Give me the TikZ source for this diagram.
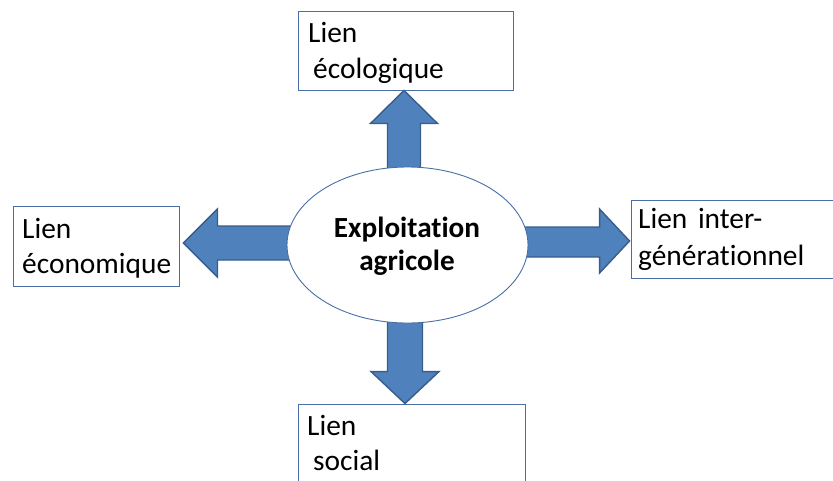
\documentclass[tikz,border=0pt]{standalone}
\usepackage{fontspec}
\setmainfont{Carlito}[Ligatures=NoCommon]
\usetikzlibrary{calc,shapes.geometric}
\pgfdeclarelayer{bg}
\pgfsetlayers{bg,main}
\definecolor{arrowfill}{HTML}{4F81BD}
\definecolor{arrowline}{HTML}{385D8A}
\definecolor{boxline}{HTML}{4A6FA5}
\begin{document}
\begin{tikzpicture}[x=1pt,y=-1pt,
  linkbox/.style={draw=boxline,line width=0.9pt,rectangle,inner sep=0pt},
  txt/.style={anchor=base west,inner sep=0pt,font=\fontsize{29.4}{33}\selectfont},
  ctxt/.style={anchor=base,inner sep=0pt,font=\fontsize{29.2}{33}\selectfont\bfseries},
  hub/.style={ellipse,draw=boxline,line width=0.9pt,fill=white,inner sep=0pt},
  barrow/.style={fill=arrowfill,draw=arrowline,line width=1.4pt,line join=miter}]
\useasboundingbox (0,0) rectangle (833,480);
\clip (0,0) rectangle (833,480);
% boxes
\node[linkbox,minimum width=215,minimum height=79] (eco) at (405.5,50.5) {};
\node[linkbox,minimum width=166,minimum height=80] (econ) at (96,246) {};
\node[linkbox,minimum width=209,minimum height=78] (inter) at (735.5,239) {};
\node[linkbox,minimum width=227,minimum height=81] (soc) at (411.5,444.5) {};
% hub
\node[hub,minimum width=241,minimum height=156] (ell) at (407.5,245) {};
% texts
\node[txt] (ecoA) at (308,42) {Lien};
\node[txt] (ecoB) at (313,78) {écologique};
\node[txt] (econA) at (22,238) {Lien};
\node[txt] (econB) at (22,273) {économique};
\node[txt] (interA) at (638,228) {Lien\kern4pt{} inter-};
\node[txt] (interB) at (638,265) {générationnel};
\node[txt] (socA) at (307,435) {Lien};
\node[txt] (socB) at (313,470) {social};
\node[ctxt] (hubA) at (407,237) {Exploitation};
\node[ctxt] (hubB) at (407,270) {agricole};
% block arrows
\begin{pgfonlayer}{bg}
\draw[barrow] ($(eco.south)+(-1.5,0)$) -- ++(33.5,33) -- ++(-17,0) -- ++(0,110) -- ++(-33,0) -- ++(0,-110) -- ++(-17,0) -- cycle;
\draw[barrow] ($(econ.east)+(4,-3)$) -- ++(34,-34) -- ++(0,17) -- ++(110,0) -- ++(0,34) -- ++(-110,0) -- ++(0,17) -- cycle;
\draw[barrow] ($(inter.west)+(-1,2)$) -- ++(-30,-32) -- ++(0,18) -- ++(-110,0) -- ++(0,30) -- ++(110,0) -- ++(0,16) -- cycle;
\draw[barrow] ($(soc.north)+(-6.5,0)$) -- ++(34,-32) -- ++(-16.5,0) -- ++(0,-110) -- ++(-35,0) -- ++(0,110) -- ++(-16.5,0) -- cycle;
\end{pgfonlayer}
\end{tikzpicture}
\end{document}
